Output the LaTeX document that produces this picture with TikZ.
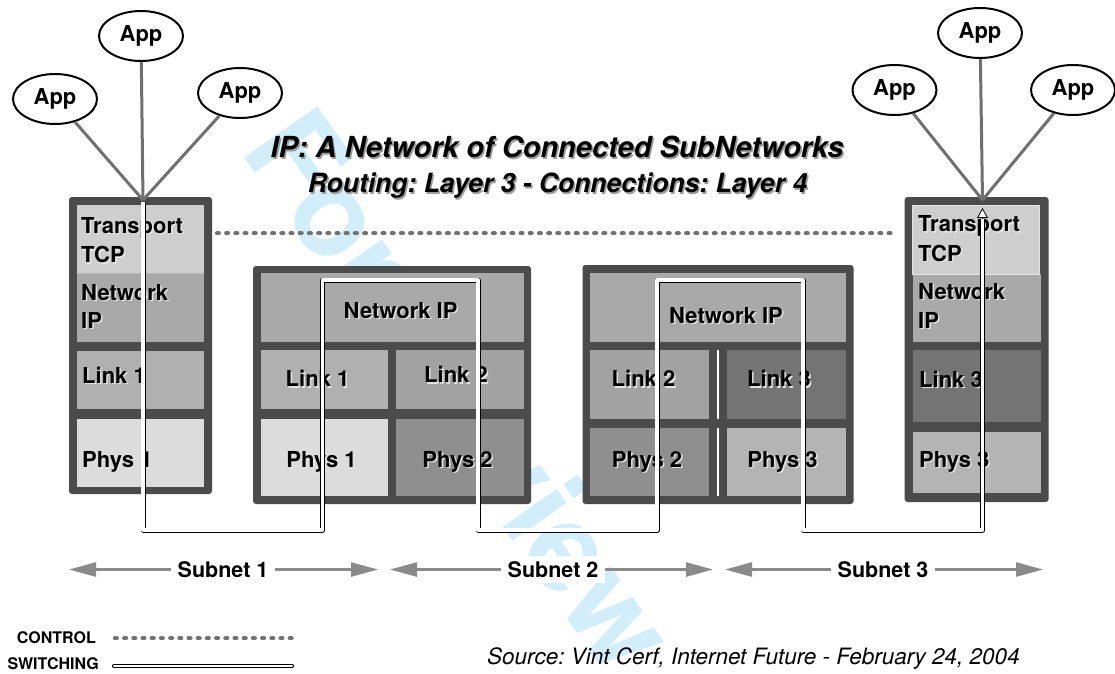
\documentclass[tikz,border=0pt]{standalone}
\usepackage{fontspec}
\setmainfont{TeX Gyre Heros}
\usetikzlibrary{arrows.meta,shapes.geometric}
\frenchspacing

\definecolor{frame}{HTML}{4B4B4B}
\definecolor{wmblue}{HTML}{D2EEFB}
\definecolor{appgray}{HTML}{707070}
\definecolor{ctrlgray}{HTML}{727272}
\definecolor{subgray}{HTML}{8A8A8A}
\definecolor{lblshadow}{HTML}{E4E4E4}
\definecolor{titleshadow}{HTML}{9C9C9C}
\definecolor{cTrans}{HTML}{CECECE}
\definecolor{cNet}{HTML}{A9A9A9}
\definecolor{cLinkA}{HTML}{B0B0B0}
\definecolor{cLinkB}{HTML}{A2A2A2}
\definecolor{cLinkC}{HTML}{747474}
\definecolor{cPhysA}{HTML}{DCDCDC}
\definecolor{cPhysB}{HTML}{8F8F8F}
\definecolor{cPhysC}{HTML}{B4B4B4}

% text with a soft drop shadow
\newcommand\dropsh[2][lblshadow]{\makebox[0pt][l]{\hspace*{1.5pt}\raisebox{-1.5pt}{\textcolor{#1}{#2}}}#2}
% rectangular area given by its corners (x1,y1) (x2,y2), y downwards
\newcommand\areanode[6]{\node[#6, anchor=north west, minimum width={(#4)-(#2)}, minimum height={(#5)-(#3)}] (#1) at (#2,#3) {};}

\begin{document}
\begin{tikzpicture}[x=1pt,y=-1pt,
  frm/.style={fill=frame, rounded corners=3pt, inner sep=0pt, outer sep=0pt},
  cell/.style={inner sep=0pt, outer sep=0pt},
  lbl/.style={inner sep=0pt, text=black, font=\bfseries\fontsize{22}{29}\selectfont},
  app/.style={ellipse, draw=black, line width=2pt, fill=white, minimum width=84pt,
    minimum height=50pt, inner sep=0pt, font=\bfseries\fontsize{22}{26}\selectfont},
  appline/.style={draw=appgray, line width=3pt},
  switchline/.style={draw=black, line width=0.9pt, double=white, double distance=3.2pt, line join=round},
  control/.style={draw=ctrlgray, line width=4.3pt, line cap=round, dash pattern=on 1.8pt off 7.4pt},
  subarrow/.style={draw=subgray, line width=2.6pt, -{Triangle[length=27pt,width=14pt]}},
  sublbl/.style={fill=white, inner xsep=6.5pt, inner ysep=5pt, font=\bfseries\fontsize{21.5}{25}\selectfont},
  leg/.style={inner sep=0pt, font=\bfseries\fontsize{16}{19}\selectfont},
]
\useasboundingbox (0,0) rectangle (1115,673);
\fill[white] (0,0) rectangle (1115,673);

% watermark
\node[anchor=base west, inner sep=0pt, rotate=-55, text=wmblue,
  font=\bfseries\fontsize{122.5}{122.5}\selectfont] (wmark) at (239,150) {For Review};

% headings
\node[anchor=base, inner sep=0pt, font=\bfseries\itshape\fontsize{29}{34}\selectfont]
  (title) at (557,157.5) {\dropsh[titleshadow]{IP: A Network of Connected SubNetworks}};
\node[anchor=base, inner sep=0pt, font=\bfseries\itshape\fontsize{26.5}{31}\selectfont]
  (subtitle) at (557.5,192.5) {\dropsh[titleshadow]{Routing: Layer 3 - Connections: Layer 4}};

% control path between the two transport layers
\coordinate (ctlA) at (217,233.3);
\coordinate (ctlB) at (893,233.3);
\draw[control] (ctlA) -- (ctlB);

% ---------- host A ----------
\areanode{hA}{69}{197}{212}{494}{frm}
\areanode{hAtr}{77}{205}{204}{273}{cell, fill=cTrans}
\areanode{hAnet}{77}{273}{204}{342}{cell, fill=cNet}
\areanode{hAlink}{77}{351}{204}{409}{cell, fill=cLinkA}
\areanode{hAphys}{77}{419}{204}{487}{cell, fill=cPhysA}
\draw[cPhysC, line width=0.6pt] (hAtr.south west) -- (hAtr.south east);
\node[lbl, anchor=base west] (hAt1) at (81,233.3) {\dropsh{Transport}};
\node[lbl, anchor=base west] (hAt2) at (81,262.7) {\dropsh{TCP}};
\node[lbl, anchor=base west] (hAn1) at (81,300) {\dropsh{Network}};
\node[lbl, anchor=base west] (hAn2) at (81,328.3) {\dropsh{IP}};
\node[lbl, anchor=base west] (hAl) at (82,383.3) {\dropsh{Link 1}};
\node[lbl, anchor=base west] (hAp) at (82,467.3) {\dropsh{Phys 1}};

% ---------- router 1 ----------
\areanode{rA}{253}{266}{531}{504}{frm}
\areanode{rAnet}{261}{273}{524}{342}{cell, fill=cNet}
\areanode{rAlink1}{261}{350}{387.5}{409}{cell, fill=cLinkA}
\areanode{rAlink2}{396}{350}{524}{409}{cell, fill=cLinkB}
\areanode{rAphys1}{261}{419}{387.5}{496}{cell, fill=cPhysA}
\areanode{rAphys2}{396}{419}{524}{496}{cell, fill=cPhysB}
\node[lbl, anchor=base] (rAn) at (400.6,318.3) {\dropsh{Network IP}};
\node[lbl, anchor=base] (rAl1) at (317.5,386.7) {\dropsh{Link 1}};
\node[lbl, anchor=base] (rAl2) at (456,382.7) {\dropsh{Link 2}};
\node[lbl, anchor=base] (rAp1) at (321.5,467.3) {\dropsh{Phys 1}};
\node[lbl, anchor=base] (rAp2) at (457.5,467.3) {\dropsh{Phys 2}};

% ---------- router 2 ----------
\areanode{rB}{582.5}{265}{853.6}{504}{frm}
\areanode{rBnet}{590}{273}{846}{342}{cell, fill=cNet}
\areanode{rBlink2}{590}{350}{709}{419}{cell, fill=cLinkB}
\areanode{rBlink3}{727}{350}{846}{419}{cell, fill=cLinkC}
\areanode{rBphys2}{590}{428}{709}{496}{cell, fill=cPhysB}
\areanode{rBphys3}{727}{428}{846}{496}{cell, fill=cPhysC}
\draw[white, line width=1.2pt] (718,350) -- (718,419) (718,428) -- (718,496);
\node[lbl, anchor=base] (rBn) at (726,323.3) {\dropsh{Network IP}};
\node[lbl, anchor=base] (rBl2) at (643.5,386.7) {\dropsh{Link 2}};
\node[lbl, anchor=base] (rBl3) at (779,386.7) {\dropsh{Link 3}};
\node[lbl, anchor=base] (rBp2) at (647,467.3) {\dropsh{Phys 2}};
\node[lbl, anchor=base] (rBp3) at (782.5,467.3) {\dropsh{Phys 3}};

% ---------- host B ----------
\areanode{hB}{904.6}{197}{1048.6}{502}{frm}
\areanode{hBnet}{912.5}{274}{1041}{342}{cell, fill=cNet}
\areanode{hBtr}{912.5}{205}{1039.6}{274}{cell, fill=cTrans, draw=lblshadow, line width=0.8pt}
\areanode{hBlink}{912.5}{350}{1041}{422}{cell, fill=cLinkC}
\areanode{hBphys}{912.5}{432}{1041}{493}{cell, fill=cPhysC}
\node[lbl, anchor=base west] (hBt1) at (918,231.7) {\dropsh{Transport}};
\node[lbl, anchor=base west] (hBt2) at (918,261) {\dropsh{TCP}};
\node[lbl, anchor=base west] (hBn1) at (918,299.3) {\dropsh{Network}};
\node[lbl, anchor=base west] (hBn2) at (918,328.3) {\dropsh{IP}};
\node[lbl, anchor=base west] (hBl) at (919,387.3) {\dropsh{Link 3}};
\node[lbl, anchor=base west] (hBp) at (919,467.3) {\dropsh{Phys 3}};

% ---------- switching path ----------
\coordinate (sw0) at (143,202);
\coordinate (sw1) at (143,530);
\coordinate (sw2) at (322.5,530);
\coordinate (sw3) at (322.5,280);
\coordinate (sw4) at (478,280);
\coordinate (sw5) at (478,530);
\coordinate (sw6) at (657,530);
\coordinate (sw7) at (657,280);
\coordinate (sw8) at (803,280);
\coordinate (sw9) at (803,530);
\coordinate (sw10) at (982.5,530);
\coordinate (sw11) at (982.5,219);
\coordinate (swtip) at (982.5,208);
\draw[switchline] (sw0) -- (sw1) -- (sw2) -- (sw3) -- (sw4) -- (sw5) -- (sw6)
  -- (sw7) -- (sw8) -- (sw9) -- (sw10) -- (sw11);
\draw[black, line width=0.8pt, -{Triangle[length=10pt,width=11pt,fill=white]}] (sw11) -- (swtip);

% ---------- applications ----------
\coordinate (cvA) at (143,200);
\coordinate (cvB) at (982.5,200);
\node[app] (aA1) at (55,99) {App};
\node[app] (aA2) at (141,36) {App};
\node[app] (aA3) at (240,93) {App};
\node[app] (aB1) at (894.5,90) {App};
\node[app] (aB2) at (980,33) {App};
\node[app] (aB3) at (1073,90) {App};
\foreach \a in {aA1,aA2,aA3} \draw[appline] (\a) -- (cvA);
\foreach \a in {aB1,aB2,aB3} \draw[appline] (\a) -- (cvB);

% ---------- subnets ----------
\node[sublbl] (sn1) at (223,569.5) {Subnet 1};
\node[sublbl] (sn2) at (553,569.5) {Subnet 2};
\node[sublbl] (sn3) at (883,569.5) {Subnet 3};
\coordinate (s1L) at (69,569.5);
\coordinate (s1R) at (378,569.5);
\coordinate (s2L) at (390,569.5);
\coordinate (s2R) at (713,569.5);
\coordinate (s3L) at (725,569.5);
\coordinate (s3R) at (1043,569.5);
\draw[subarrow] (sn1) -- (s1L);
\draw[subarrow] (sn1) -- (s1R);
\draw[subarrow] (sn2) -- (s2L);
\draw[subarrow] (sn2) -- (s2R);
\draw[subarrow] (sn3) -- (s3L);
\draw[subarrow] (sn3) -- (s3R);

% ---------- legend ----------
\node[leg, anchor=base east] (legC) at (96,643.3) {CONTROL};
\node[leg, anchor=base east] (legS) at (99,669.3) {SWITCHING};
\coordinate (lc1) at (115,638.3);
\coordinate (lc2) at (297,638.3);
\coordinate (ls1) at (114,666);
\coordinate (ls2) at (292,666);
\draw[control] (lc1) -- (lc2);
\draw[switchline, double distance=2.4pt, line cap=round] (ls1) -- (ls2);

% ---------- source ----------
\node[anchor=base west, inner sep=0pt, font=\itshape\fontsize{22.5}{27}\selectfont]
  (src) at (487,664) {Source: Vint Cerf, Internet Future - February 24, 2004};
\end{tikzpicture}
\end{document}
